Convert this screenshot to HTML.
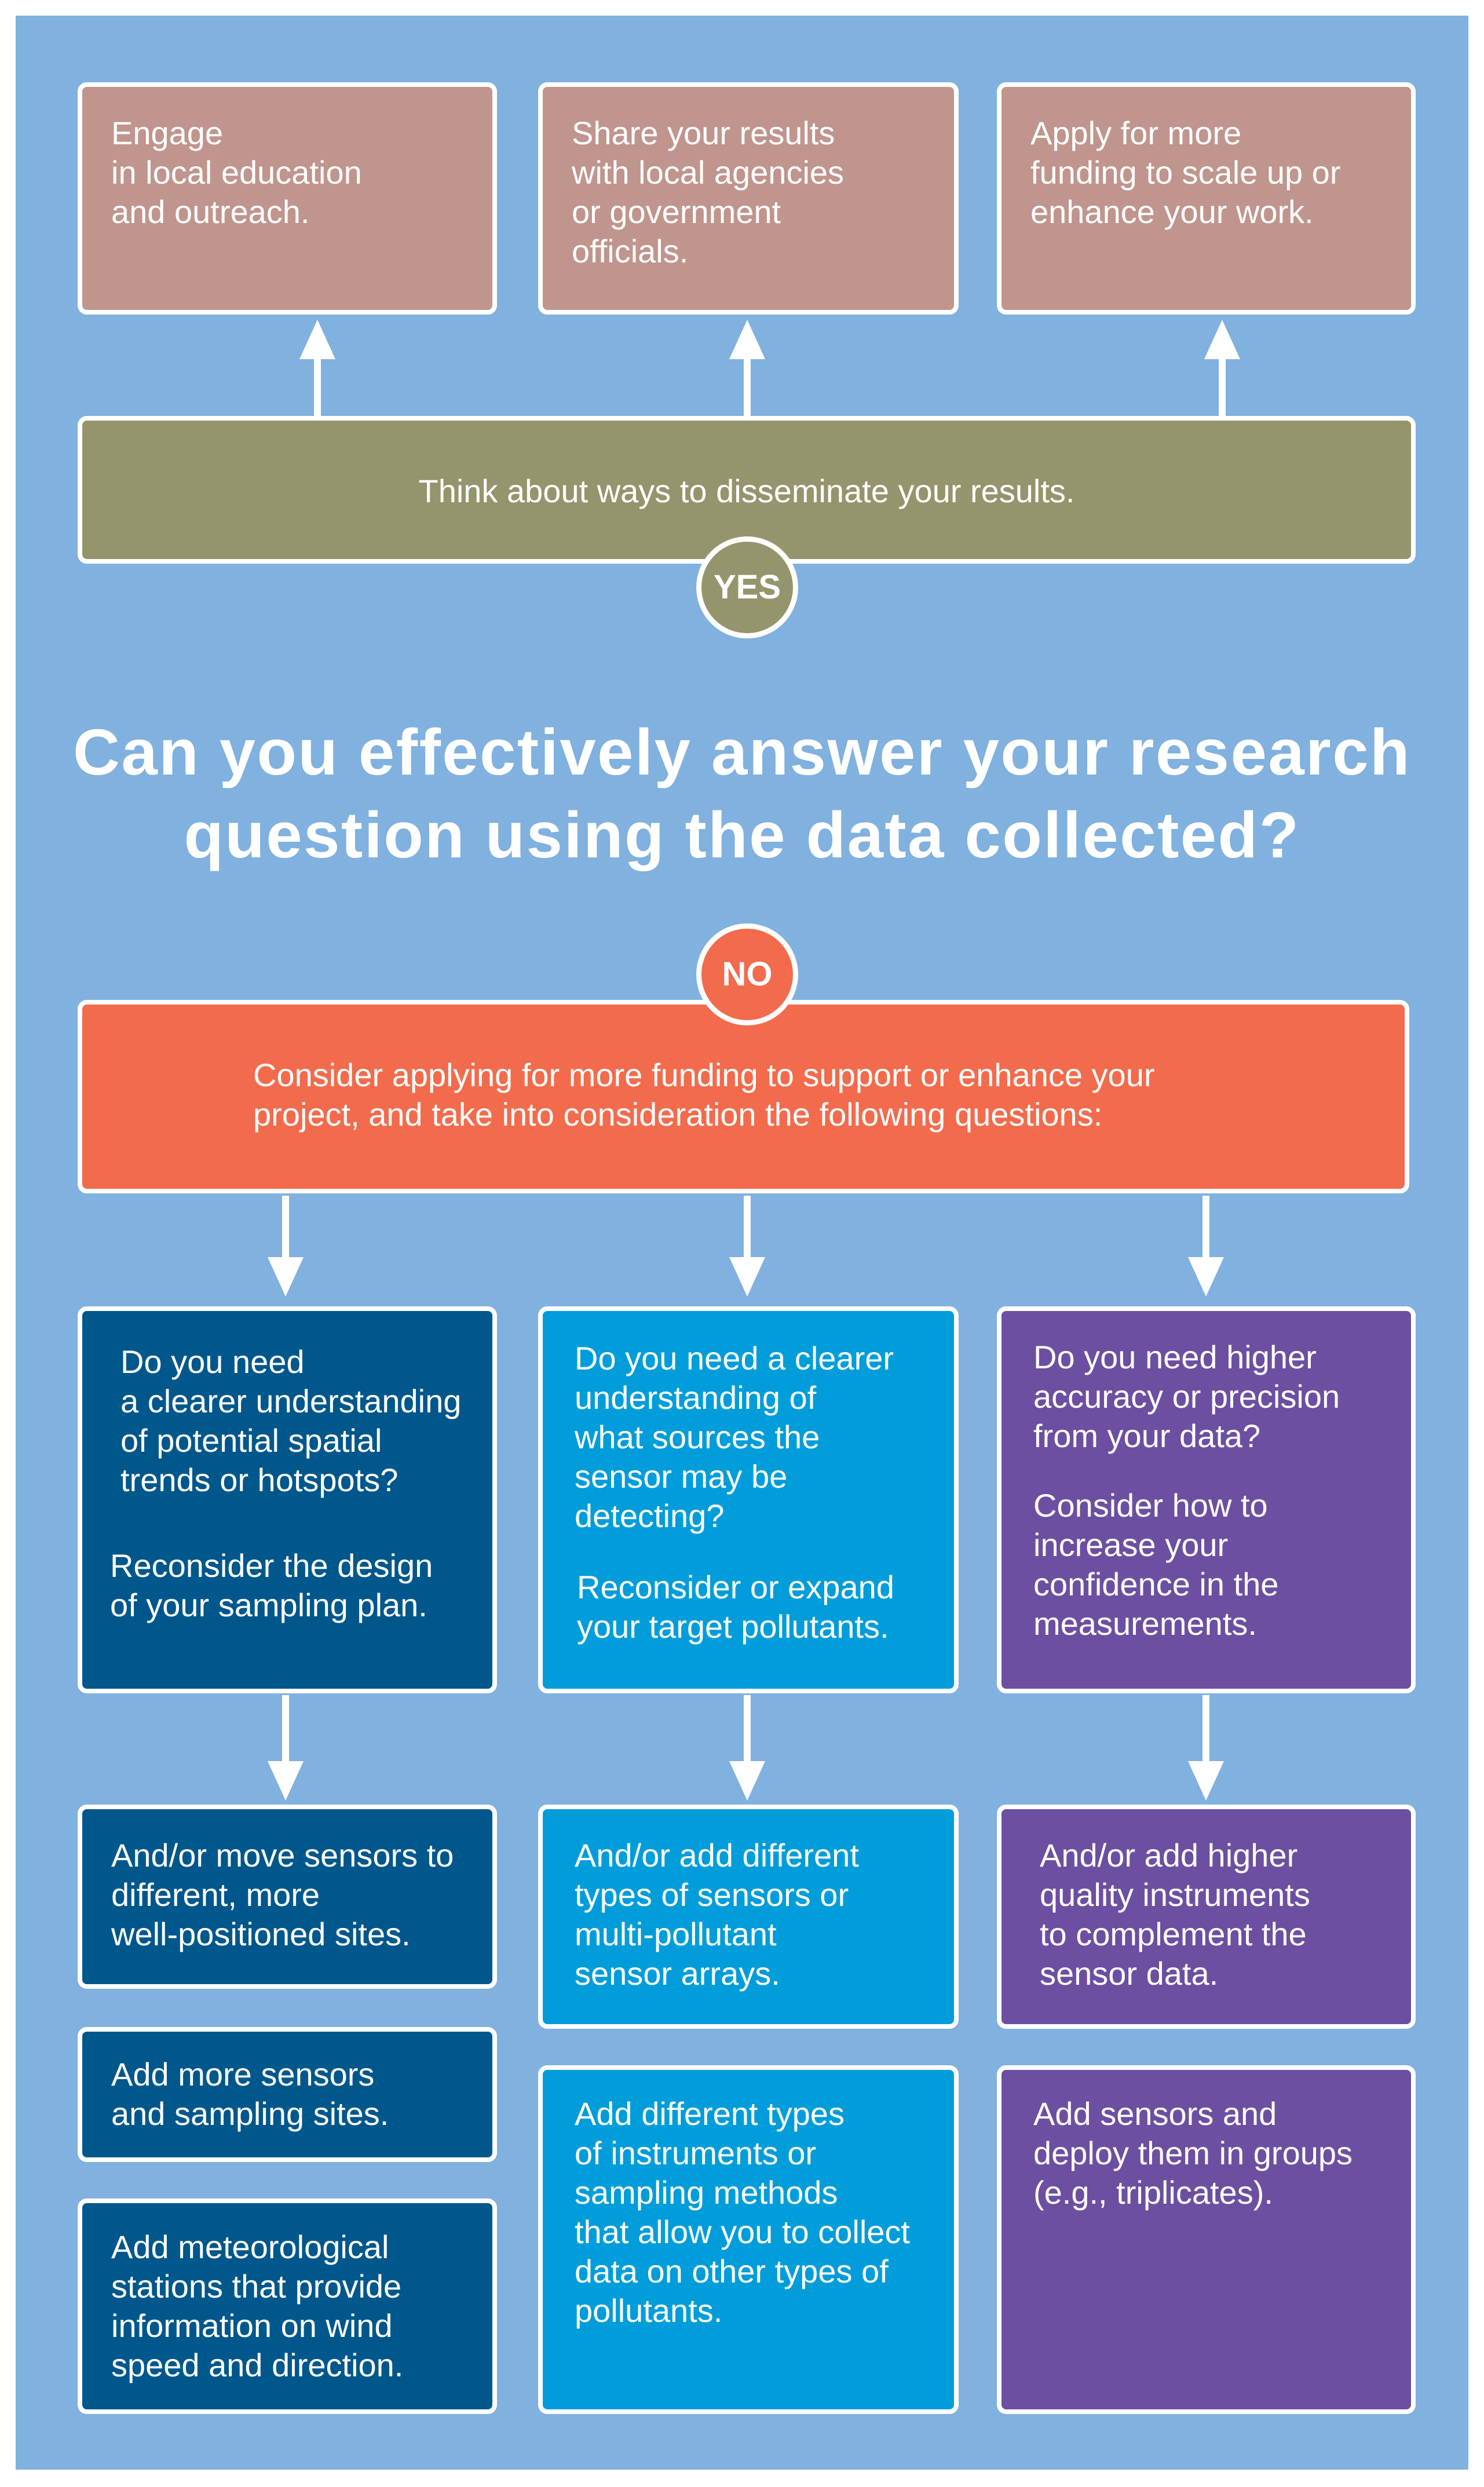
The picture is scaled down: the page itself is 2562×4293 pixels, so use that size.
<!DOCTYPE html>
<html><head><meta charset="utf-8">
<style>
*{margin:0;padding:0;box-sizing:border-box}
body{width:2562px;height:4293px;background:#fff;position:relative;overflow:hidden;font-family:"Liberation Sans",sans-serif;color:#fff}
#bg{position:absolute;left:27px;top:27px;width:2508px;height:4236px;background:#80b1df}
.b{position:absolute;border:8px solid #fff;border-radius:16px;font-size:56px;line-height:68px;white-space:nowrap;padding:46px 0 0 50px}
.pk{background:#c0958d}.ol{background:#95956d}.or{background:#f26b4c}.db{background:#00578b}.cy{background:#009dda}.pu{background:#6c4fa1}
.c1{left:134px;width:724px}.c2{left:929px;width:726px}.c3{left:1721px;width:723px}
.circ{position:absolute;width:176px;height:176px;border-radius:50%;border:9px solid #fff;font-weight:bold;font-size:58px;text-align:center;line-height:158px}
h1{position:absolute;left:0;width:2562px;text-align:center;font-size:112px;letter-spacing:2.5px;line-height:143px;font-weight:bold;top:1227px}
</style></head><body>
<div id="bg"></div>
<div class="b pk c1" style="top:142px;height:401px">Engage<br>in local education<br>and outreach.</div>
<div class="b pk c2" style="top:142px;height:401px">Share your results<br>with local agencies<br>or government<br>officials.</div>
<div class="b pk c3" style="top:142px;height:401px">Apply for more<br>funding to scale up or<br>enhance your work.</div>
<div class="b ol" style="left:134px;width:2310px;top:718px;height:255px;text-align:center;padding:88px 0 0 0">Think about ways to disseminate your results.</div>
<div class="circ ol" style="left:1202px;top:926px">YES</div>
<h1>Can you effectively answer your research<br>question using the data collected?</h1>
<div class="b or" style="left:134px;width:2299px;top:1726px;height:334px;padding:88px 0 0 295px">Consider applying for more funding to support or enhance your<br>project, and take into consideration the following questions:</div>
<div class="circ or" style="left:1202px;top:1594px">NO</div>

<div class="b db c1" style="top:2255px;height:668px;padding-left:0;padding-top:54px"><div style="padding-left:66px">Do you need<br>a clearer understanding<br>of potential spatial<br>trends or hotspots?</div><div style="padding-left:48px;margin-top:80px">Reconsider the design<br>of your sampling plan.</div></div>
<div class="b cy c2" style="top:2255px;height:668px;padding-top:48px;padding-left:55px">Do you need a clearer<br>understanding of<br>what sources the<br>sensor may be<br>detecting?<div style="margin-top:55px;padding-left:4px">Reconsider or expand<br>your target pollutants.</div></div>
<div class="b pu c3" style="top:2255px;height:668px;padding-top:46px;padding-left:55px">Do you need higher<br>accuracy or precision<br>from your data?<div style="margin-top:52px;padding-left:0">Consider how to<br>increase your<br>confidence in the<br>measurements.</div></div>

<div class="b db c1" style="top:3115px;height:318px">And/or move sensors to<br>different, more<br>well-positioned sites.</div>
<div class="b db c1" style="top:3499px;height:233px;padding-top:40px">Add more sensors<br>and sampling sites.</div>
<div class="b db c1" style="top:3795px;height:372px;padding-top:42px">Add meteorological<br>stations that provide<br>information on wind<br>speed and direction.</div>
<div class="b cy c2" style="top:3115px;height:387px;padding-left:55px">And/or add different<br>types of sensors or<br>multi-pollutant<br>sensor arrays.</div>
<div class="b cy c2" style="top:3565px;height:602px;padding-left:55px;padding-top:42px">Add different types<br>of instruments or<br>sampling methods<br>that allow you to collect<br>data on other types of<br>pollutants.</div>
<div class="b pu c3" style="top:3115px;height:387px;padding-left:66px">And/or add higher<br>quality instruments<br>to complement the<br>sensor data.</div>
<div class="b pu c3" style="top:3565px;height:602px;padding-left:55px;padding-top:42px">Add sensors and<br>deploy them in groups<br>(e.g., triplicates).</div>

<svg style="position:absolute;left:0;top:0" width="2562" height="4293">
<g fill="#fff">
<rect x="542" y="600" width="12" height="120"/><polygon points="517,620 548,552 579,620"/>
<rect x="1284" y="600" width="12" height="120"/><polygon points="1259,620 1290,552 1321,620"/>
<rect x="2104" y="600" width="12" height="120"/><polygon points="2079,620 2110,552 2141,620"/>
<rect x="487" y="2064" width="12" height="130"/><polygon points="462,2170 493,2238 524,2170"/>
<rect x="1284" y="2064" width="12" height="130"/><polygon points="1259,2170 1290,2238 1321,2170"/>
<rect x="2076" y="2064" width="12" height="130"/><polygon points="2051,2170 2082,2238 2113,2170"/>
<rect x="487" y="2926" width="12" height="130"/><polygon points="462,3040 493,3108 524,3040"/>
<rect x="1284" y="2926" width="12" height="130"/><polygon points="1259,3040 1290,3108 1321,3040"/>
<rect x="2076" y="2926" width="12" height="130"/><polygon points="2051,3040 2082,3108 2113,3040"/>
</g></svg>
</body></html>
